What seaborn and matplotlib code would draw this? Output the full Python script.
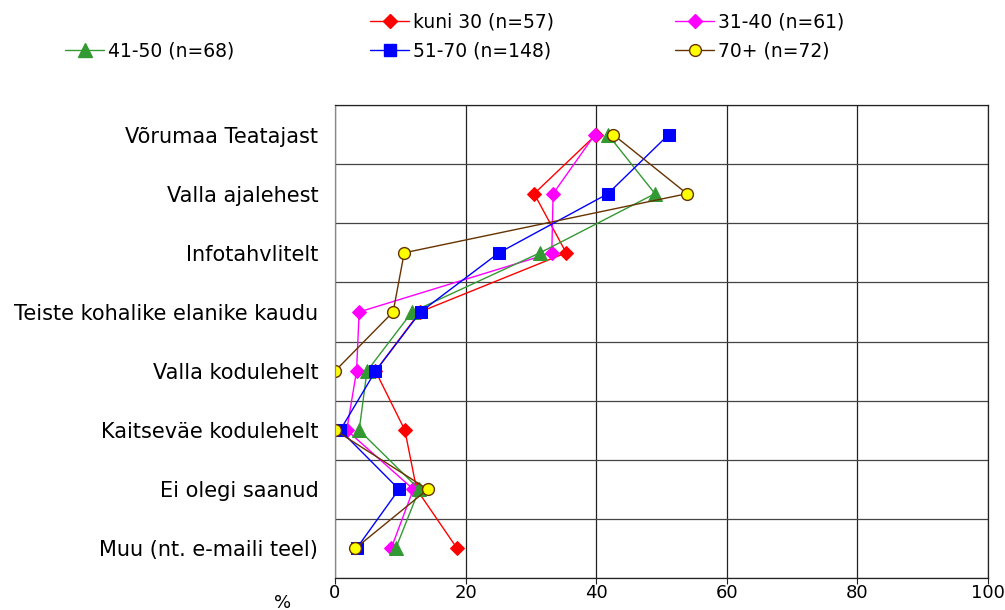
import numpy as np
import pandas as pd
import seaborn as sns
import matplotlib.pyplot as plt
from matplotlib.lines import Line2D

# Kategooriad (ülevalt alla)
kategooriad = ['Võrumaa Teatajast', 'Valla ajalehest', 'Infotahvlitelt',
               'Teiste kohalike elanike kaudu', 'Valla kodulehelt',
               'Kaitseväe kodulehelt', 'Ei olegi saanud', 'Muu (nt. e-maili teel)']

# Vanuserühmade väärtused (%)
kuni_30 = [40.0, 30.5, 35.4, 13.0, 6.2, 10.7, 12.5, 18.7]
v31_40 = [39.8, 33.4, 33.2, 3.7, 3.3, 1.8, 12.0, 8.6]
v41_50 = [41.8, 49.0, 31.4, 11.8, 4.9, 3.7, 12.9, 9.3]
v51_70 = [51.1, 41.8, 25.1, 13.1, 6.2, 0.8, 9.8, 3.3]
v70_pl = [42.6, 53.9, 10.6, 8.9, 0.0, 0.0, 14.2, 3.1]

x_ticks = [0, 20, 40, 60, 80, 100]

sns.set_style('white')
plt.rcParams['font.family'] = ['DejaVu Sans']
plt.rcParams['text.color'] = 'black'
plt.rcParams['xtick.color'] = 'black'
plt.rcParams['ytick.color'] = 'black'

fig = plt.figure(figsize=(10.05, 6.1), dpi=100)
ax = fig.add_axes([335 / 1005, 1 - 578 / 610, (988 - 335) / 1005, (578 - 105) / 610])

pos = np.arange(len(kategooriad))

seeriad = [
    ('kuni 30 (n=57)', kuni_30, dict(color='#FF0000', marker='D', markersize=7.5,
                                    markerfacecolor='#FF0000', markeredgecolor='#FF0000')),
    ('31-40 (n=61)', v31_40, dict(color='#FF00FF', marker='D', markersize=7.5,
                                 markerfacecolor='#FF00FF', markeredgecolor='#FF00FF')),
    ('41-50 (n=68)', v41_50, dict(color='#339933', marker='^', markersize=10,
                                 markerfacecolor='#339933', markeredgecolor='#339933')),
    ('51-70 (n=148)', v51_70, dict(color='#0000FF', marker='s', markersize=8.5,
                                  markerfacecolor='#0000FF', markeredgecolor='#0000FF')),
    ('70+ (n=72)', v70_pl, dict(color='#663300', marker='o', markersize=8.5,
                               markerfacecolor='#FFFF00', markeredgecolor='#663300',
                               markeredgewidth=1.0)),
]

handles = {}
for nimi, vals, stiil in seeriad:
    df = pd.DataFrame({'x': vals, 'y': pos})
    sns.lineplot(data=df, x='x', y='y', orient='y', sort=False, estimator=None,
                 linewidth=1.0, ax=ax, legend=False, **stiil)
    handles[nimi] = Line2D([], [], linewidth=1.0, **stiil)

ax.set_xlim(0, 100)
ax.set_ylim(len(kategooriad) - 0.5, -0.5)
ax.set_xticks(x_ticks)
ax.set_xticklabels([str(t) for t in x_ticks], fontsize=13)
ax.set_yticks(pos)
ax.set_yticklabels(kategooriad, fontsize=15)
ax.set_yticks(np.arange(len(kategooriad) + 1) - 0.5, minor=True)
ax.set_xlabel('')
ax.set_ylabel('')

ax.grid(False)
ax.xaxis.grid(True, color='#222222', linewidth=0.9)
ax.yaxis.grid(True, which='minor', color='#444444', linewidth=0.9)
ax.tick_params(axis='y', which='both', length=0, pad=12)
ax.tick_params(axis='x', length=4, width=0.8, color='#222222', pad=0, direction='out')
ax.xaxis.set_ticks_position('bottom')
for s in ax.spines.values():
    s.set_color('#222222')
    s.set_linewidth(0.9)
ax.spines['left'].set_color('#888888')

fig.text(283 / 1005, 1 - 603 / 610, '%', fontsize=13, ha='center', va='center')

# Legend kolmes veerus, esimene lahter tühi
tyhi = Line2D([], [], linestyle='none', marker='none')
veerud = [
    (65, [tyhi, handles['41-50 (n=68)']], ['', '41-50 (n=68)']),
    (370, [handles['kuni 30 (n=57)'], handles['51-70 (n=148)']], ['kuni 30 (n=57)', '51-70 (n=148)']),
    (675, [handles['31-40 (n=61)'], handles['70+ (n=72)']], ['31-40 (n=61)', '70+ (n=72)']),
]
for x0, h, l in veerud:
    fig.legend(h, l, loc='upper left', bbox_to_anchor=(x0 / 1005, 1 - 13 / 610),
               frameon=False, fontsize=13.5, handlelength=2.1, handletextpad=0.2,
               labelspacing=0.5, borderpad=0, borderaxespad=0)

fig.savefig('out.png', dpi=100)
